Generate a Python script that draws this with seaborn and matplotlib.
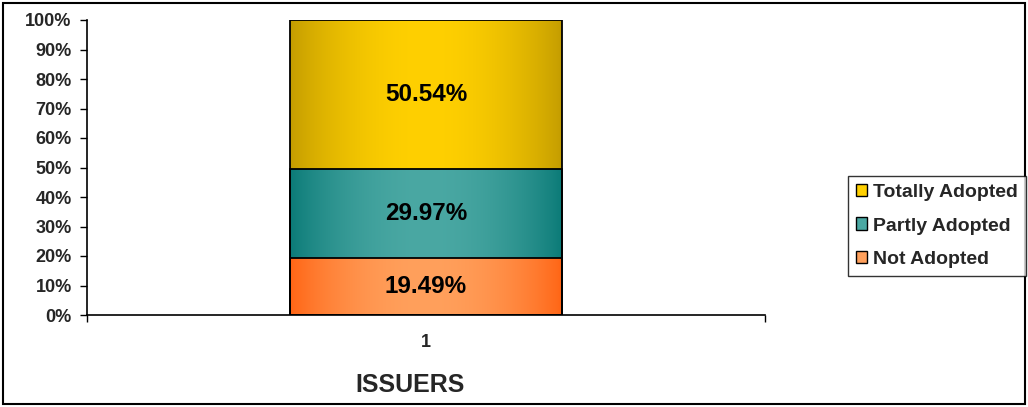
import numpy as np
import pandas as pd
import matplotlib
matplotlib.use('Agg')
import matplotlib.pyplot as plt
import seaborn as sns
from matplotlib.patches import Patch, Rectangle
from matplotlib.colors import to_rgb

# data
category = ['1']
series = ['Not Adopted', 'Partly Adopted', 'Totally Adopted']
values = [19.49, 29.97, 50.54]
edge_cols = ['#FF6414', '#0A7A77', '#C39C00']
mid_cols = ['#FFA05C', '#4AA8A3', '#FFD000']
y_ticks = list(range(0, 101, 10))
y_tick_labels = [f'{t}%' for t in y_ticks]

sns.set_theme(style='white')
plt.rcParams['font.family'] = ['Liberation Sans', 'DejaVu Sans']
plt.rcParams['font.weight'] = 'bold'

fig = plt.figure(figsize=(10.28, 4.07), dpi=100)
ax = fig.add_axes([87 / 1028, 1 - 315 / 407, (765 - 87) / 1028, (315 - 20) / 407])

# cumulative totals, largest first, so each seaborn bar sits on top of the next
cum = np.cumsum(values)
bottoms = cum - np.array(values)
for i in reversed(range(len(values))):
    df = pd.DataFrame({'cat': category, 'val': [cum[i]]})
    sns.barplot(data=df, x='cat', y='val', ax=ax, width=0.4,
                color=mid_cols[i], edgecolor='black', linewidth=1.3)

# gradient fill clipped to each bar patch
patches = list(ax.patches)  # order: total, ..., smallest
for k, p in enumerate(patches):
    i = len(values) - 1 - k
    x0, w = p.get_x(), p.get_width()
    e = np.array(to_rgb(edge_cols[i]))
    m = np.array(to_rgb(mid_cols[i]))
    t = np.linspace(0, 1, 256)
    prof = np.sin(np.pi * t) ** 0.8
    grad = e[None, :] + (m - e)[None, :] * prof[:, None]
    img = ax.imshow(grad[None, :, :], extent=[x0, x0 + w, 0, p.get_height()],
                    aspect='auto', zorder=2 + k * 0.1, interpolation='bilinear')
    img.set_clip_path(p)
    p.set_facecolor('none')
    p.set_zorder(5)

for i, v in enumerate(values):
    ax.text(0, bottoms[i] + v / 2, f'{v:.2f}%', ha='center', va='center',
            fontsize=17.5, fontweight='bold', color='black', zorder=6)

ax.set_xlim(-0.5, 0.5)
ax.set_ylim(0, 100)
ax.set_yticks(y_ticks)
ax.set_yticklabels(y_tick_labels, fontsize=13, fontweight='bold')
ax.set_xticks([0])
ax.set_xticklabels(category, fontsize=13, fontweight='bold')
ax.set_xticks([-0.5, 0.5], minor=True)
ax.tick_params(axis='x', which='major', length=0, pad=14)
ax.tick_params(axis='x', which='minor', length=5, width=1, color='black', direction='out', bottom=True)
ax.tick_params(axis='y', length=5, width=1, color='black', direction='out', left=True, pad=6)
ax.set_xlabel('ISSUERS', fontsize=18, fontweight='bold')
ax.xaxis.set_label_coords(0.476, -0.195)
ax.set_ylabel('')
for s in ['top', 'right']:
    ax.spines[s].set_visible(False)
for s in ['left', 'bottom']:
    ax.spines[s].set_color('black')
    ax.spines[s].set_linewidth(1.2)

handles = [Patch(facecolor=mid_cols[i], edgecolor='black', label=series[i])
           for i in reversed(range(len(series)))]
leg = fig.legend(handles=handles, loc='center left',
                 bbox_to_anchor=(848 / 1028, 1 - 226 / 407),
                 prop={'size': 14, 'weight': 'bold'}, frameon=True, fancybox=False,
                 handlelength=0.6, handleheight=0.6, handletextpad=0.3,
                 labelspacing=0.85, borderpad=0.4, borderaxespad=0)
leg.get_frame().set_edgecolor('black')
leg.get_frame().set_linewidth(1.0)

fig.patches.append(Rectangle((3 / 1028, 3 / 407), 1022 / 1028, 401 / 407,
                             transform=fig.transFigure, fill=False,
                             edgecolor='black', linewidth=1.5))

fig.savefig('out.png', dpi=100)
